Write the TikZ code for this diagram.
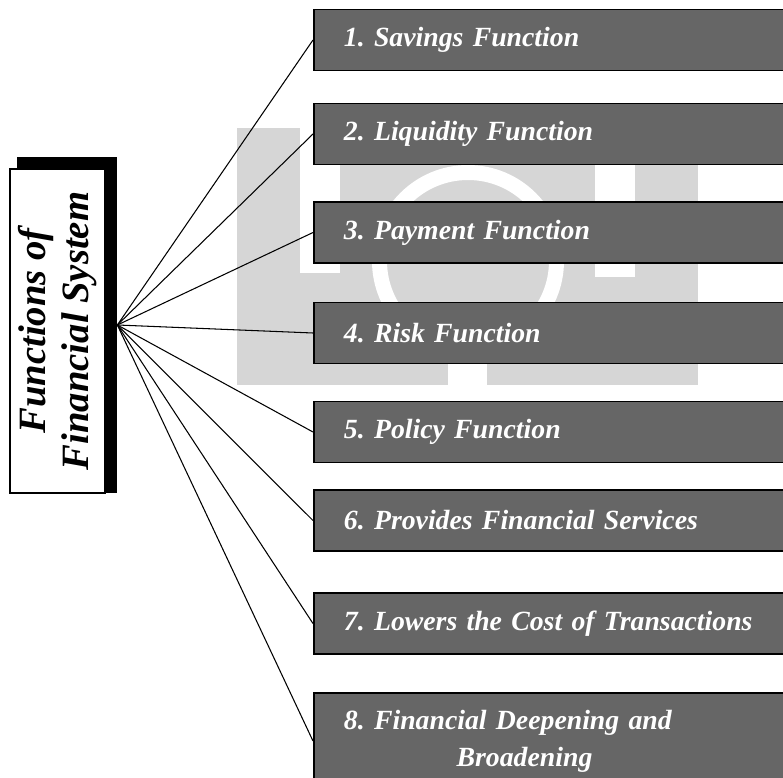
\documentclass[tikz,border=0pt]{standalone}
\usepackage{fontspec}
\setmainfont{Liberation Serif}
\usepackage{tikz}
\usetikzlibrary{positioning}
\definecolor{BoxGray}{RGB}{102,102,102}
\definecolor{MarkGray}{RGB}{214,214,214}
\frenchspacing

\begin{document}
\begin{tikzpicture}[
    box/.style={rectangle,draw,line width=1.1pt,fill=BoxGray,text=white,anchor=west,
        minimum height=1.22cm,text width=8.74cm,inner xsep=0.6cm,align=left,
        font=\fontsize{15.8}{21}\selectfont\bfseries\itshape},
    link/.style={line width=0.6pt}
]
\useasboundingbox (0,0) rectangle (15.66,-15.56);
\clip (0,0) rectangle (15.66,-15.56);

% HPH mark in the background
\fill[MarkGray] (4.74,-2.56) rectangle (13.96,-7.70);
\fill[white] (6.0,-2.56) rectangle (6.8,-5.46);
\fill[white] (11.9,-2.56) rectangle (12.7,-5.54);
\draw[white,line width=0.3cm] (9.36,-5.22) circle (1.77);
\fill[white] (8.96,-6.6) rectangle (9.74,-7.70);

\node[rectangle,fill=black,minimum width=2cm,minimum height=6.72cm,inner sep=0] (titleshadow) at (1.34,-6.5) {};
\node[rectangle,draw,line width=1.1pt,fill=white,rotate=90,minimum width=6.48cm,minimum height=1.9cm,
    align=center,font=\fontsize{22}{24.5}\selectfont\bfseries\itshape] (title) at (1.15,-6.62) {Functions of\\Financial System};

\node[box] (savings) at (6.26,-0.80) {1. Savings Function};
\node[box] (liquidity) at (6.26,-2.68) {2. Liquidity Function};
\node[box] (payment) at (6.26,-4.65) {3. Payment Function};
\node[box] (risk) at (6.26,-6.66) {4. Risk Function};
\node[box] (policy) at (6.26,-8.64) {5. Policy Function};
\node[box] (services) at (6.26,-10.41) {6. Provides Financial Services};
\node[box] (cost) at (6.26,-12.47) {7. Lowers the Cost of Transactions};
\node[box,minimum height=1.92cm] (deepening) at (6.26,-14.82) {\begin{tabular}{@{}c@{}}8. Financial Deepening and\\\hspace{1.2em}Broadening\end{tabular}};

\draw[link] (titleshadow.east) -- (savings.west);
\draw[link] (titleshadow.east) -- (liquidity.west);
\draw[link] (titleshadow.east) -- (payment.west);
\draw[link] (titleshadow.east) -- (risk.west);
\draw[link] (titleshadow.east) -- (policy.west);
\draw[link] (titleshadow.east) -- (services.west);
\draw[link] (titleshadow.east) -- (cost.west);
\draw[link] (titleshadow.east) -- (deepening.west);
\end{tikzpicture}
\end{document}
